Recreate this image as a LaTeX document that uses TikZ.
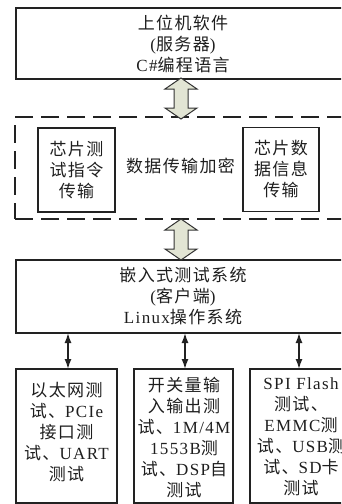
\documentclass[tikz,border=0pt]{standalone}
\usepackage{fontspec}
\setmainfont{Liberation Serif}[LetterSpace=8]
\newfontfamily\cjk{Noto Sans CJK SC}[LetterSpace=8]
\newcommand\zh[1]{{\cjk #1}}
\usetikzlibrary{arrows.meta}
\definecolor{linec}{HTML}{222222}
\definecolor{txtc}{HTML}{1E1E1E}
\definecolor{arrfill}{HTML}{E2E5D4}
\definecolor{arrline}{HTML}{333333}
\newcommand\fatarr[3]{%
  \filldraw[fatarrow] (#1,#2) -- (#1+16,#2+11) -- (#1+7,#2+11) -- (#1+7,#3-11)
    -- (#1+16,#3-11) -- (#1,#3) -- (#1-16,#3-11) -- (#1-7,#3-11)
    -- (#1-7,#2+11) -- (#1-16,#2+11) -- cycle;}
\begin{document}
\begin{tikzpicture}[x=1pt,y=-1pt,
  box/.style={draw=linec, line width=1.5pt, inner sep=0pt, outer sep=0pt},
  txt/.style={align=center, font=\fontsize{17}{21}\selectfont, text=txtc, inner sep=0pt},
  dashbox/.style={draw=linec, line width=2.2pt, dash pattern=on 18pt off 8pt, inner sep=0pt, outer sep=0pt},
  fatarrow/.style={fill=arrfill, draw=arrline, line width=1pt, line join=miter},
  thinarr/.style={draw=linec, line width=1.5pt, {Latex[length=10pt,width=7pt]}-{Latex[length=10pt,width=7pt]}}]
\useasboundingbox (0,0) rectangle (341,504);
\clip (0,0) rectangle (341,504);
% top box
\node[box, txt, minimum width=334pt, minimum height=71pt] (host) at (183,43.5)
  {\zh{上位机软件}\\(\zh{服务器})\\C\#\zh{编程语言}};
% dashed encryption box
\node[dashbox, minimum width=335pt, minimum height=102pt] (enc) at (182.5,168) {};
\node[box, txt, minimum width=77pt, minimum height=84pt] (cmd) at (76.5,170)
  {\zh{芯片测}\\\zh{试指令}\\\zh{传输}};
\node[box, txt, minimum width=76pt, minimum height=84pt] (info) at (281,169.5)
  {\zh{芯片数}\\\zh{据信息}\\\zh{传输}};
\node[txt] (enclabel) at (180.5,166) {\zh{数据传输加密}};
% embedded box
\node[box, txt, minimum width=334pt, minimum height=73pt] (emb) at (183,296.5)
  {\zh{嵌入式测试系统}\\(\zh{客户端})\\Linux\zh{操作系统}};
% fat arrows
\fatarr{181}{78}{119}
\fatarr{181}{219}{260}
% bottom boxes
\node[box, minimum width=101pt, minimum height=134pt] (b1) at (66.5,436) {};
\node[box, minimum width=99pt, minimum height=134pt] (b2) at (183.5,436) {};
\node[box, minimum width=100pt, minimum height=134pt] (b3) at (300,436) {};
\node[txt] (t1) at (66.5,432)
  {\zh{以太网测}\\\zh{试、}PCIe\\\zh{接口测}\\\zh{试、}UART\\\zh{测试}};
\node[txt] (t2) at (184,437)
  {\zh{开关量输}\\\zh{入输出测}\\\zh{试、}1M/4M\\1553B\zh{测}\\\zh{试、}DSP\zh{自}\\\zh{测试}};
\node[txt] (t3) at (301,437)
  {SPI Flash\\\zh{测试、}\\EMMC\zh{测}\\\zh{试、}USB\zh{测}\\\zh{试、}SD\zh{卡}\\\zh{测试}};
% thin arrows
\draw[thinarr] (emb.south -| b1.north) ++(1.5,0) coordinate (a1s) -- (a1s |- b1.north);
\draw[thinarr] (emb.south -| b2.north) ++(1.5,0) coordinate (a2s) -- (a2s |- b2.north);
\draw[thinarr] (emb.south -| b3.north) ++(-1,0) coordinate (a3s) -- (a3s |- b3.north);
\end{tikzpicture}
\end{document}
